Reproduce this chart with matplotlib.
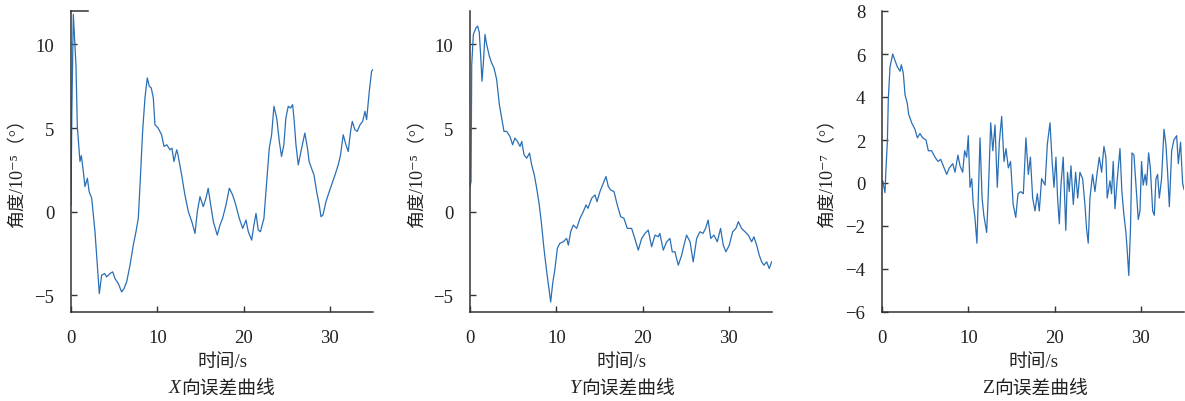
import numpy as np
import matplotlib
matplotlib.use("Agg")
import matplotlib.pyplot as plt

plt.rcParams['font.family'] = ['Liberation Serif', 'Noto Sans CJK SC', 'DejaVu Sans']

# X direction error, 1e-5 deg
x_t = [0, 0.1, 0.27, 0.58, 0.73, 1.04, 1.2, 1.43, 1.62, 1.9, 2.1, 2.4, 2.78, 3.05, 3.28,
       3.55, 3.9, 4.13, 4.52, 4.83, 5.1, 5.48, 5.87, 6.14, 6.45, 6.84, 7.22, 7.53, 7.8,
       8.0, 8.3, 8.57, 8.84, 9.07, 9.3, 9.54, 9.73, 10.1, 10.5, 10.78, 11.1, 11.47, 11.7,
       11.93, 12.25, 12.4, 12.82, 13.2, 13.6, 14.0, 14.37, 14.64, 14.95, 15.33, 15.64,
       15.9, 16.19, 16.5, 16.95, 17.27, 17.57, 17.96, 18.35, 18.73, 19.1, 19.5, 19.9,
       20.28, 20.55, 20.94, 21.2, 21.44, 21.7, 21.95, 22.36, 22.68, 22.98, 23.25, 23.52,
       23.84, 24.14, 24.4, 24.67, 24.9, 25.18, 25.45, 25.68, 25.84, 26.07, 26.34, 26.73,
       27.1, 27.4, 27.6, 27.87, 28.16, 28.47, 28.77, 28.97, 29.2, 29.55, 29.93, 30.2,
       30.6, 30.97, 31.24, 31.55, 31.86, 32.13, 32.4, 32.6, 32.9, 33.17, 33.5, 33.8,
       34.07, 34.26, 34.57, 34.84, 35.0]
x_v = [0.4, 6.0, 11.8, 8.7, 5.1, 3.0, 3.35, 2.4, 1.5, 2.0, 1.2, 0.8, -1.2, -3.2, -4.9,
       -3.8, -3.7, -3.9, -3.7, -3.6, -4.0, -4.3, -4.8, -4.6, -4.2, -3.2, -2.0, -1.2, -0.4,
       1.6, 4.8, 6.8, 8.0, 7.5, 7.4, 6.8, 5.2, 5.0, 4.6, 3.9, 4.0, 3.7, 3.8,
       3.0, 3.7, 3.4, 2.2, 1.0, 0.0, -0.6, -1.3, 0.0, 0.9, 0.3, 0.8,
       1.4, 0.4, -0.6, -1.4, -0.8, -0.4, 0.4, 1.4, 1.0, 0.4, -0.4, -1.0,
       -0.5, -1.2, -1.7, -0.8, -0.1, -1.1, -1.2, -0.4, 1.8, 3.8, 4.6, 6.3,
       5.6, 4.2, 3.3, 4.0, 5.6, 6.3, 6.2, 6.4, 5.6, 4.0, 2.8, 3.8,
       4.7, 3.8, 3.0, 2.6, 2.2, 1.2, 0.4, -0.3, -0.2, 0.6, 1.2, 1.6,
       2.2, 2.8, 3.4, 4.6, 4.0, 3.6, 4.8, 5.4, 4.9, 4.8, 5.2, 5.4,
       6.0, 5.5, 7.2, 8.4, 8.5]

# Y direction error, 1e-5 deg
y_t = [0, 0.12, 0.2, 0.39, 0.7, 0.89, 1.08, 1.27, 1.39, 1.55, 1.74, 1.93, 2.24, 2.5,
       2.78, 3.09, 3.4, 3.67, 3.94, 4.25, 4.63, 4.94, 5.2, 5.5, 5.8, 6.0, 6.26, 6.57,
       6.9, 7.15, 7.45, 7.73, 8.03, 8.3, 8.57, 8.89, 9.15, 9.35, 9.58, 9.85, 10.12,
       10.4, 10.8, 11.2, 11.4, 11.67, 11.97, 12.36, 12.75, 13.13, 13.44, 13.67, 14.1,
       14.48, 14.72, 15.06, 15.37, 15.76, 16.03, 16.3, 16.69, 17.07, 17.46, 17.84,
       18.23, 18.73, 19.1, 19.5, 19.9, 20.28, 20.66, 21.05, 21.44, 21.82, 22.0, 22.4,
       22.79, 23.17, 23.44, 23.75, 24.14, 24.53, 24.8, 25.1, 25.5, 25.87, 26.27, 26.65,
       27.0, 27.3, 27.6, 27.9, 28.27, 28.66, 29.04, 29.35, 29.66, 30.05, 30.44, 30.82,
       31.1, 31.48, 31.87, 32.25, 32.64, 32.9, 33.22, 33.52, 33.8, 34.07, 34.38, 34.68,
       34.96]
y_v = [1.5, 1.8, 8.8, 10.6, 11.0, 11.1, 10.7, 9.0, 7.8, 8.9, 10.6, 10.0, 9.3, 8.9,
       8.6, 7.9, 6.4, 5.6, 4.8, 4.8, 4.5, 4.0, 4.4, 4.2, 3.9, 4.2, 3.4, 3.2,
       3.5, 2.8, 2.2, 1.4, 0.4, -0.8, -2.2, -3.6, -4.6, -5.4, -4.3, -3.4, -2.2,
       -1.9, -1.8, -1.6, -2.0, -1.2, -0.8, -1.0, -0.4, 0.0, 0.4, 0.2, 0.8,
       1.0, 0.6, 1.2, 1.6, 2.1, 1.5, 1.3, 1.2, 0.4, -0.3, -0.4,
       -1.0, -1.0, -1.6, -2.3, -1.6, -1.3, -1.1, -2.1, -1.4, -1.5, -1.3, -2.3,
       -1.8, -1.6, -2.4, -2.4, -3.2, -2.6, -2.0, -1.4, -1.8, -3.0, -1.6, -1.2,
       -1.3, -1.0, -0.5, -1.6, -1.4, -1.8, -1.0, -2.0, -2.4, -2.0, -1.2, -1.0,
       -0.6, -1.0, -1.2, -1.4, -1.8, -1.5, -2.0, -2.6, -3.0, -3.2, -3.0, -3.4,
       -3.0]

# Z direction error, 1e-7 deg
z_t = [0, 0.08, 0.35, 0.44, 0.62, 0.73, 0.93, 1.24, 1.5, 1.78, 2.09, 2.24, 2.47, 2.67,
       2.93, 3.09, 3.44, 3.82, 4.1, 4.4, 4.71, 5.1, 5.37, 5.75, 6.14, 6.5, 6.8, 7.1,
       7.5, 7.8, 8.2, 8.46, 8.8, 9.04, 9.35, 9.58, 9.81, 10.0, 10.2, 10.4, 10.58, 10.77,
       11.0, 11.16, 11.36, 11.6, 11.8, 12.13, 12.3, 12.6, 12.84, 13.1, 13.36, 13.6,
       13.87, 14.14, 14.37, 14.64, 14.9, 15.2, 15.5, 15.76, 16.07, 16.38, 16.68, 16.96,
       17.2, 17.46, 17.73, 18.0, 18.23, 18.5, 18.9, 19.16, 19.47, 19.73, 19.93, 20.16,
       20.35, 20.55, 20.74, 21.0, 21.3, 21.5, 21.7, 21.9, 22.17, 22.44, 22.68, 22.94,
       23.25, 23.52, 23.7, 23.9, 24.1, 24.4, 24.68, 24.94, 25.18, 25.45, 25.72, 25.95,
       26.1, 26.42, 26.6, 26.8, 27.0, 27.27, 27.58, 27.8, 28.04, 28.27, 28.43, 28.6,
       28.8, 28.97, 29.2, 29.43, 29.7, 29.9, 30.08, 30.27, 30.5, 30.66, 30.9, 31.1,
       31.37, 31.56, 31.75, 31.94, 32.14, 32.4, 32.68, 32.9, 33.1, 33.3, 33.57, 33.83,
       34.15, 34.34, 34.6, 34.84, 35.0]
z_v = [0.0, 0.1, -0.45, 0.5, 1.9, 3.9, 5.4, 6.0, 5.7, 5.4, 5.2, 5.5, 5.1, 4.1,
       3.7, 3.2, 2.8, 2.5, 2.1, 2.3, 2.1, 2.0, 1.5, 1.5, 1.2, 1.0, 1.1, 0.8,
       0.4, 0.7, 0.9, 0.5, 1.3, 0.8, 0.5, 1.5, 1.2, 2.2, -0.2, 0.2, -1.0, -1.6,
       -2.8, -0.7, 2.1, -0.7, -1.5, -2.3, -0.7, 2.8, 1.5, 2.7, -0.2, 1.9,
       3.1, 1.0, 1.6, 0.7, 1.0, -1.0, -1.6, -0.5, -0.4, -0.5, 2.1, 0.4,
       1.2, -0.7, -1.3, -0.5, -1.3, 0.2, -0.1, 1.8, 2.8, 0.9, -0.2, 1.2,
       -0.7, -1.9, -0.1, 1.2, -2.2, 0.5, -0.4, 0.8, -1.0, 0.5, -0.7, 0.5,
       0.2, -1.0, -2.1, -2.8, -0.7, 0.4, -0.4, 0.5, 1.2, 0.5, 1.7, 1.2,
       -0.7, 0.1, -0.5, 1.0, -1.2, 0.2, 1.6, -0.4, -1.5, -2.3, -3.2, -4.3,
       -2.1, 1.4, 1.3, -0.1, -1.7, -1.3, 1.0, -0.1, 0.4, -0.1, 1.4, 0.7,
       -1.3, -1.5, 0.2, 0.4, -0.7, 0.2, 2.5, 1.8, 0.5, -1.1, 1.5, 2.0,
       2.2, 0.9, 1.9, 0.0, -0.3]

W, H = 1185, 402
fig = plt.figure(figsize=(W / 100, H / 100), dpi=100)

line_color = '#2a6fb5'
text_color = '#222222'

# (left px, right px, t, v, ylim, yticks, ylabel, axis letter, italic?, split px, ylabel x px)
panels = [
    (71, 373, x_t, x_v, (-6, 12), [-5, 0, 5, 10], '角度/10⁻⁵（°）', 'X', True, 181, 18),
    (470, 772, y_t, y_v, (-6, 12), [-5, 0, 5, 10], '角度/10⁻⁵（°）', 'Y', True, 581, 418),
    (882, 1184, z_t, z_v, (-6, 8), [-6, -4, -2, 0, 2, 4, 6, 8], '角度/10⁻⁷（°）', 'Z', False, 994, 828),
]

top_px, bot_px = 12, 313
for i, (l, r, t, v, ylim, yticks, ylab, letter, ital, split, ylab_x) in enumerate(panels):
    ax = fig.add_axes([l / W, 1 - bot_px / H, (r - l) / W, (bot_px - top_px) / H])
    ax.plot(t, v, color=line_color, lw=0.9)
    ax.set_xlim(0, 35)
    ax.set_ylim(*ylim)
    ax.set_xticks([0, 10, 20, 30])
    ax.set_yticks(yticks)
    for s in ['top', 'right']:
        ax.spines[s].set_visible(False)
    for s in ['left', 'bottom']:
        ax.spines[s].set_color('#333333')
        ax.spines[s].set_linewidth(1.1)
    ax.tick_params(direction='in', length=4, width=1, colors='#333333',
                   labelsize=13.5, labelcolor=text_color, pad=12)
    if i == 0:
        ax.axhline(12, xmin=0, xmax=0.055, color='#333333', lw=1.1, clip_on=False)
    cx = (l + r) / 2
    fig.text(cx / W, 1 - 363 / H, '时间/s', ha='center', va='center',
             fontsize=13.5, color=text_color)
    fig.text(split / W, 1 - 389 / H, letter, ha='right', va='center',
             fontsize=14, color=text_color, style='italic' if ital else 'normal')
    fig.text(split / W, 1 - 389 / H, '向误差曲线', ha='left', va='center',
             fontsize=13.5, color=text_color)
    fig.text(ylab_x / W, 1 - 169 / H, ylab, rotation=90,
             ha='center', va='center', fontsize=13, color=text_color)

fig.savefig('out.png', dpi=100)
